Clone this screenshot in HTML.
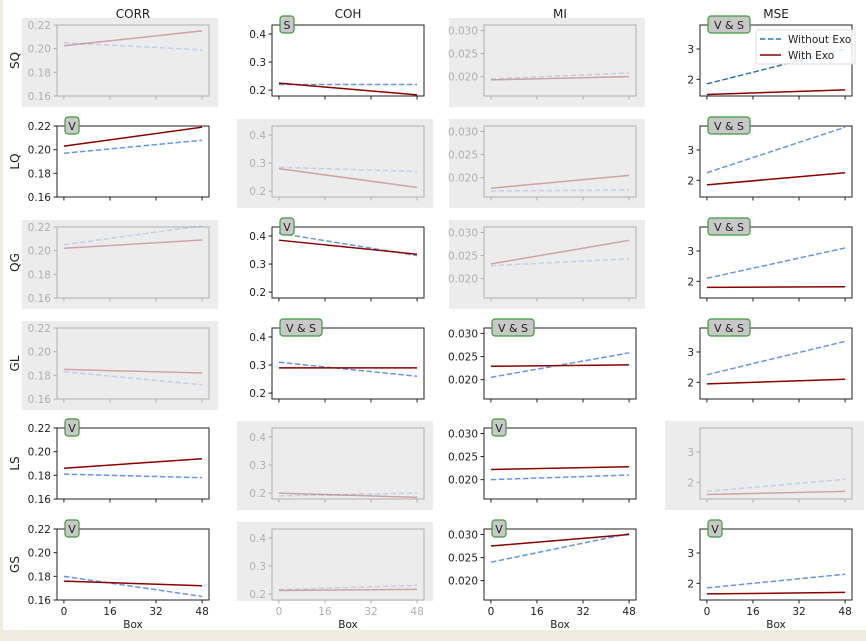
<!DOCTYPE html>
<html><head><meta charset="utf-8"><style>
body{margin:0;background:#f0ece0;}
#wrap{position:absolute;left:0;top:0;width:866px;height:636px;}
svg text{font-family:"DejaVu Sans","Liberation Sans",sans-serif;}
</style></head><body>
<div id="wrap">
<svg id="fig" width="866" height="636" xmlns="http://www.w3.org/2000/svg">
<rect x="3" y="0" width="863" height="630" fill="#ffffff"/>
</svg></div>
<script>
const metrics = ["CORR","COH","MI","MSE"];
const datasets = ["SQ","LQ","QG","GL","LS","GS"];
const xTicks = [0,16,32,48];
const yTicksByMetric = [[0.16,0.18,0.20,0.22],[0.2,0.3,0.4],[0.020,0.025,0.030],[2,3]];
const yTickLabelsByMetric = [["0.16","0.18","0.20","0.22"],["0.2","0.3","0.4"],["0.020","0.025","0.030"],["2","3"]];
const yLimits = [[0.16,0.22],[0.179,0.432],[0.0158,0.0312],[1.45,3.79]];
// [start(box 0), end(box 48)] per dataset row, per metric column
const withExo = [
 [[0.2025,0.215],[0.225,0.183],[0.0193,0.0200],[1.50,1.65]],
 [[0.203,0.219],[0.28,0.213],[0.0177,0.0205],[1.85,2.25]],
 [[0.202,0.209],[0.385,0.335],[0.0232,0.0283],[1.80,1.82]],
 [[0.185,0.182],[0.29,0.29],[0.0229,0.0232],[1.95,2.10]],
 [[0.186,0.194],[0.20,0.185],[0.0222,0.0228],[1.60,1.70]],
 [[0.176,0.172],[0.213,0.217],[0.0275,0.0300],[1.65,1.70]]
];
const withoutExo = [
 [[0.205,0.199],[0.22,0.22],[0.0195,0.0208],[1.85,3.0]],
 [[0.197,0.208],[0.285,0.27],[0.0171,0.0173],[2.25,3.75]],
 [[0.205,0.221],[0.41,0.33],[0.0228,0.0243],[2.10,3.10]],
 [[0.183,0.172],[0.31,0.26],[0.0205,0.0258],[2.25,3.35]],
 [[0.181,0.178],[0.19,0.20],[0.0200,0.0210],[1.70,2.10]],
 [[0.180,0.163],[0.216,0.231],[0.0240,0.0302],[1.85,2.30]]
];
const badges = [
 ["","S","","V & S"],
 ["V","","","V & S"],
 ["","V","","V & S"],
 ["","V & S","V & S","V & S"],
 ["V","","V",""],
 ["V","","V","V"]
];
const boxStart = 0, boxEnd = 48;

const NS="http://www.w3.org/2000/svg";
const svg=document.getElementById('fig');
function mk(tag,attrs,parent){const e=document.createElementNS(NS,tag);for(const k in attrs)e.setAttribute(k,attrs[k]);(parent||svg).appendChild(e);return e;}
const colLeft=[57,272,484,700], axW=152, rowTop=[25,126,227,328,428,529], axH=71;

metrics.forEach((m,c)=>{
  const t=mk('text',{x:colLeft[c]+axW/2,y:18,'text-anchor':'middle','font-size':12,fill:'#222'});
  t.textContent=m;
  
  
});

datasets.forEach((d,r)=>{
  metrics.forEach((m,c)=>{
    const L=colLeft[c],T=rowTop[r],W=axW,H=axH;
    const faded = badges[r][c]==="";
    const g=mk('g',{});
    
    
    const xs=v=>L+W*(v+2.4)/52.8;
    const [y0,y1]=yLimits[c];
    const ys=v=>T+H-(v-y0)/(y1-y0)*H;
    if(faded){
      const bg=mk('rect',{x:L-35,y:T-7,width:W+44,height:H+(r===5?8:18),fill:'#ececec'},g);
      if(c===3) bg.setAttribute('width',W+47);
      
      
    }
    const tc=faded?'#b0b0b0':'#222';
    const ax=mk('rect',{x:L,y:T,width:W,height:H,fill:faded?'#ececec':'#fff',stroke:faded?'#b0b0b0':'#222','stroke-width':1},g);
    
    
    yTicksByMetric[c].forEach((v,i)=>{
      const y=ys(v);
      mk('line',{x1:L-3.5,x2:L,y1:y,y2:y,stroke:tc},g);
      const tl=mk('text',{x:L-6,y:y+4,'text-anchor':'end','font-size':10.5,fill:tc},g);
      tl.textContent=yTickLabelsByMetric[c][i];
      
      
    });
    xTicks.forEach(v=>{
      const x=xs(v);
      mk('line',{x1:x,x2:x,y1:T+H,y2:T+H+3.5,stroke:tc},g);
      if(r===5){
        const tl=mk('text',{x:x,y:T+H+15,'text-anchor':'middle','font-size':10.5,fill:tc},g);
        tl.textContent=String(v);
        
        
      }
    });
    if(r===5){
      const xl=mk('text',{x:L+W/2,y:T+H+28,'text-anchor':'middle','font-size':10.5,fill:'#222'},g);
      xl.textContent='Box';
      
      
    }
    const op=faded?0.3:1;
    const bcol=(r===0&&c===3)?'#2a78c0':'#6495ed';
    const bl=mk('line',{x1:xs(boxStart),y1:ys(withoutExo[r][c][0]),x2:xs(boxEnd),y2:ys(withoutExo[r][c][1]),stroke:bcol,'stroke-width':1.5,'stroke-dasharray':'5.5,2.5',opacity:op},g);
    
    
    const rl=mk('line',{x1:xs(boxStart),y1:ys(withExo[r][c][0]),x2:xs(boxEnd),y2:ys(withExo[r][c][1]),stroke:'#8b0000','stroke-width':1.5,opacity:op},g);
    
    
    if(!faded){
      const txt=badges[r][c];
      const bw=txt.length*7+7;
      const b=mk('rect',{x:L+8,y:T-9,width:bw,height:17,rx:3,fill:'#c8c8c8',stroke:'#3a9a3a','stroke-width':1.2},g);
      
      
      const bt=mk('text',{x:L+8+bw/2,y:T+4,'text-anchor':'middle','font-size':11,fill:'#222'},g);
      bt.textContent=txt;
      
      
    }
    if(c===0){
      const yl=mk('text',{x:0,y:0,'text-anchor':'middle','font-size':12,fill:'#222',transform:`translate(19,${T+H/2}) rotate(-90)`},g);
      yl.textContent=d;
      
      
    }
  });
});
// legend
const lg=mk('g',{});


mk('rect',{x:756,y:30,width:99,height:34,rx:2,fill:'#fff','fill-opacity':0.85,stroke:'#ddd'},lg);
const le1=mk('line',{x1:760,x2:781,y1:39,y2:39,stroke:'#2a78c0','stroke-width':1.5,'stroke-dasharray':'5.5,2.5'},lg);


const lt1=mk('text',{x:788,y:43,'font-size':10.5,fill:'#222'},lg);lt1.textContent='Without Exo';


const le2=mk('line',{x1:760,x2:781,y1:55,y2:55,stroke:'#8b0000','stroke-width':1.5},lg);


const lt2=mk('text',{x:788,y:59,'font-size':10.5,fill:'#222'},lg);lt2.textContent='With Exo';


</script>
</body></html>
